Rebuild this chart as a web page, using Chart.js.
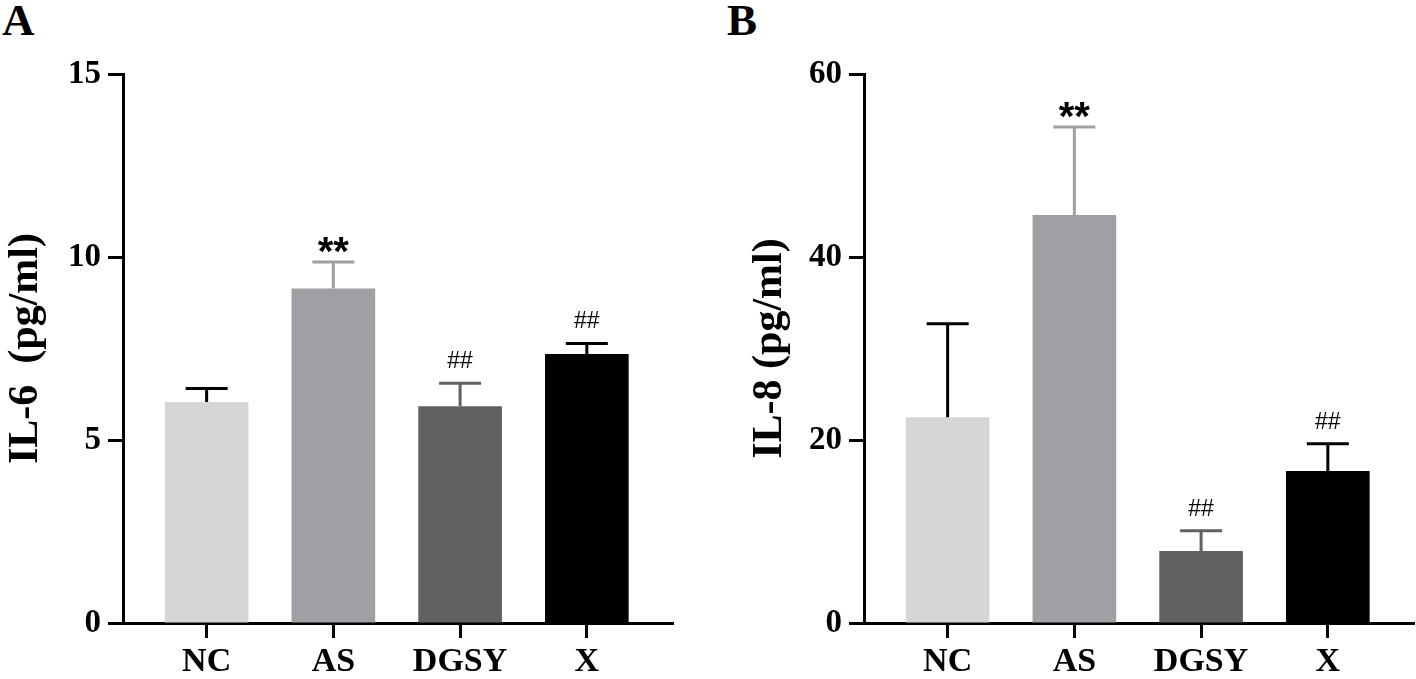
<!DOCTYPE html>
<html>
<head>
<meta charset="utf-8">
<script src="https://cdn.jsdelivr.net/npm/chart.js@4.4.1/dist/chart.umd.min.js"></script>
<style>
  body { margin: 0; background: #fff; width: 1416px; height: 679px; overflow: hidden; position: relative; }
  .panel { position: absolute; top: 0; }
  .letter { position: absolute; font-family: "Liberation Serif", serif; font-weight: bold; font-size: 45px; line-height: 1; }
</style>
</head>
<body>
<div class="letter" style="left:2px; top:-2px;">A</div>
<div class="letter" style="left:727px; top:-2px;">B</div>
<canvas id="chartA" class="panel" style="left:0px;" width="700" height="679"></canvas>
<canvas id="chartB" class="panel" style="left:700px;" width="716" height="679"></canvas>
<script>
// groups on the x axis
var groups = ['NC', 'AS', 'DGSY', 'X']
var barColors = ['#d6d6d6', '#a0a0a4', '#616161', '#000000']
var errColors = ['#000000', '#a0a0a4', '#616161', '#000000']

// IL-6 (pg/ml): mean and SD
var il6Mean = [6.04, 9.14, 5.92, 7.35]
var il6Sd = [0.37, 0.72, 0.63, 0.29]
var il6Marks = ['', '**', '##', '##']

// IL-8 (pg/ml): mean and SD
var il8Mean = [22.5, 44.6, 7.87, 16.6]
var il8Sd = [10.2, 9.6, 2.2, 3.0]
var il8Marks = ['', '**', '##', '##']

var errorBars = {
    id: 'errorBars',
    afterDatasetsDraw: function (chart, args, opts) {
        var ctx = chart.ctx
        var xs = chart.scales.x, ys = chart.scales.y
        ctx.save()
        for (var i = 0; i < opts.mean.length; i++) {
            var x = xs.getPixelForValue(i)
            var yTop = ys.getPixelForValue(opts.mean[i])
            var yErr = ys.getPixelForValue(opts.mean[i] + opts.sd[i])
            ctx.strokeStyle = errColors[i]
            ctx.lineWidth = 3
            ctx.beginPath()
            ctx.moveTo(x, yTop)
            ctx.lineTo(x, yErr)
            ctx.moveTo(x - 21, yErr)
            ctx.lineTo(x + 21, yErr)
            ctx.stroke()

            var m = opts.marks[i]
            if (!m) continue
            ctx.fillStyle = '#000'
            ctx.textAlign = 'center'
            ctx.textBaseline = 'alphabetic'
            if (m == '**') {
                ctx.font = 'bold 40px "Liberation Sans"'
                ctx.fillText(m, x, yErr + 3)
            } else {
                ctx.font = '23px "Liberation Sans"'
                ctx.fillText(m, x, yErr - 15)
            }
        }
        ctx.restore()
    }
}

function makeChart(id, mean, sd, marks, yMax, yStep, title, yWidth, titlePad, rightPad) {
    var data = []
    for (var i = 0; i < groups.length; i++) {
        data.push({ x: i, y: mean[i] })
    }
    return new Chart(document.getElementById(id), {
        type: 'bar',
        data: {
            datasets: [{
                data: data,
                backgroundColor: barColors,
                borderWidth: 0,
                barPercentage: 0.66,
                categoryPercentage: 1.0
            }]
        },
        options: {
            responsive: false,
            animation: false,
            devicePixelRatio: 1,
            layout: { padding: { top: 74, right: rightPad, bottom: 0, left: 0 } },
            plugins: {
                legend: { display: false },
                tooltip: { enabled: false },
                errorBars: { mean: mean, sd: sd, marks: marks }
            },
            scales: {
                x: {
                    type: 'linear',
                    min: -0.66,
                    max: 3.68,
                    offset: false,
                    afterBuildTicks: function (s) {
                        s.ticks = groups.map(function (g, i) { return { value: i } })
                    },
                    afterFit: function (s) { s.height = 56 },
                    grid: { display: true, offset: false, drawOnChartArea: false, drawTicks: true, tickLength: 15, tickWidth: 3, tickColor: '#000' },
                    border: { display: true, color: '#000', width: 3 },
                    ticks: {
                        color: '#000',
                        padding: 4,
                        maxRotation: 0,
                        autoSkip: false,
                        font: { family: 'Liberation Serif', weight: 'bold', size: 34 },
                        callback: function (v) { return groups[v] }
                    }
                },
                y: {
                    min: 0,
                    max: yMax,
                    afterFit: function (s) { s.width = yWidth },
                    grid: { display: true, drawOnChartArea: false, drawTicks: true, tickLength: 15, tickWidth: 3, tickColor: '#000' },
                    border: { display: true, color: '#000', width: 3 },
                    ticks: {
                        stepSize: yStep,
                        color: '#000',
                        padding: 7,
                        font: { family: 'Liberation Serif', weight: 'bold', size: 33 }
                    },
                    title: {
                        display: true,
                        text: title,
                        color: '#000',
                        padding: { top: titlePad, bottom: 0 },
                        font: { family: 'Liberation Serif', weight: 'bold', size: 42 }
                    }
                }
            }
        },
        plugins: [errorBars]
    })
}

makeChart('chartA', il6Mean, il6Sd, il6Marks, 15, 5, 'IL-6  (pg/ml)', 123, 1, 27)
makeChart('chartB', il8Mean, il8Sd, il8Marks, 60, 20, 'IL-8 (pg/ml)', 164, 45, 2)
</script>
</body>
</html>
